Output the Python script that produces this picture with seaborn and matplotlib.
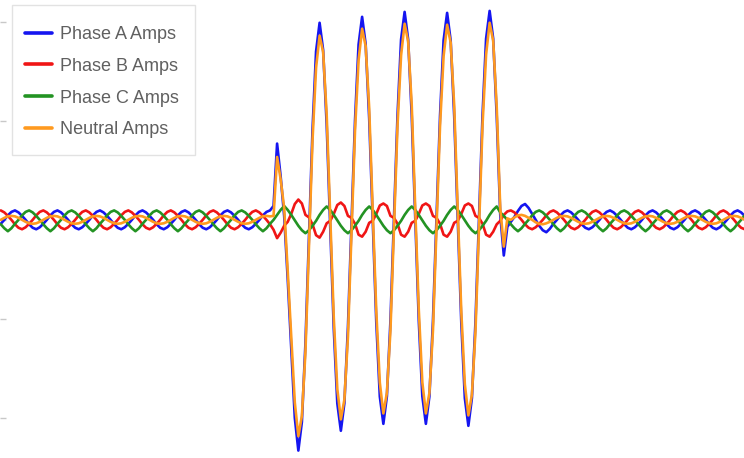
import numpy as np
import pandas as pd
import matplotlib
matplotlib.use("Agg")
import matplotlib.pyplot as plt
import matplotlib.patches as mpatches
import seaborn as sns

# Fault record, 12 samples per 60 Hz cycle, currents in amps
phase_a = [
    -40, 0, 45, 80, 95, 75, 40, 0, -45, -80, -95, -75,
    -40, 0, 45, 80, 95, 75, 40, 0, -45, -80, -95, -75,
    -40, 0, 45, 80, 95, 75, 40, 0, -45, -80, -95, -75,
    -40, 0, 45, 80, 95, 75, 40, 0, -45, -80, -95, -75,
    -40, 0, 45, 80, 95, 75, 40, 0, -45, -80, -95, -75,
    -40, 0, 45, 80, 95, 75, 40, 0, -45, -80, -95, -75,
    -40, 0, 45, 80, 95, 140, 770, 440, 40, -600, -1300, -2000,
    -2330, -2040, -1250, -170, 910, 1700, 1990, 1714, 960, -70, -1100, -1854,
    -2130, -1850, -1085, -40, 1005, 1770, 2050, 1775, 1023, -5, -1033, -1785,
    -2060, -1781, -1020, 20, 1060, 1821, 2100, 1821, 1060, 20, -1020, -1781,
    -2060, -1782, -1022, 15, 1052, 1812, 2090, 1811, 1048, 5, -1038, -1801,
    -2080, -1799, -1033, 15, 1063, 1829, 2110, 1830, 1050, 50, -360, -70,
    -20, 30, 90, 140, 160, 120, 60, 0, -60, -105, -125, -90,
    -40, 0, 45, 80, 95, 75, 40, 0, -45, -80, -95, -75,
    -40, 0, 45, 80, 95, 75, 40, 0, -45, -80, -95, -75,
    -40, 0, 45, 80, 95, 75, 40, 0, -45, -80, -95, -75,
    -40, 0, 45, 80, 95, 75, 40, 0, -45, -80, -95, -75,
    -40, 0, 45, 80, 95, 75, 40,
]

phase_b = [
    95, 75, 40, 0, -45, -80, -95, -75, -40, 0, 45, 80,
    95, 75, 40, 0, -45, -80, -95, -75, -40, 0, 45, 80,
    95, 75, 40, 0, -45, -80, -95, -75, -40, 0, 45, 80,
    95, 75, 40, 0, -45, -80, -95, -75, -40, 0, 45, 80,
    95, 75, 40, 0, -45, -80, -95, -75, -40, 0, 45, 80,
    95, 75, 40, 0, -45, -80, -95, -75, -40, 0, 45, 80,
    95, 75, 40, 0, -45, -100, -185, -130, -60, -20, 60, 160,
    205, 165, 50, 25, -45, -155, -180, -120, -35, -10, 60, 150,
    175, 140, 40, 20, -40, -150, -170, -120, -30, -10, 60, 145,
    165, 140, 40, 20, -40, -150, -170, -120, -30, -10, 60, 145,
    165, 140, 40, 20, -40, -150, -170, -120, -30, -10, 60, 145,
    165, 140, 40, 20, -40, -150, -170, -120, -45, -10, 50, 85,
    95, 75, 40, 0, -45, -80, -95, -75, -40, 0, 45, 80,
    95, 75, 40, 0, -45, -80, -95, -75, -40, 0, 45, 80,
    95, 75, 40, 0, -45, -80, -95, -75, -40, 0, 45, 80,
    95, 75, 40, 0, -45, -80, -95, -75, -40, 0, 45, 80,
    95, 75, 40, 0, -45, -80, -95, -75, -40, 0, 45, 80,
    95, 75, 40, 0, -45, -80, -95,
]

phase_c = [
    -45, -85, -115, -85, -40, 0, 45, 80, 95, 75, 40, 0,
    -45, -85, -115, -85, -40, 0, 45, 80, 95, 75, 40, 0,
    -45, -85, -115, -85, -40, 0, 45, 80, 95, 75, 40, 0,
    -45, -85, -115, -85, -40, 0, 45, 80, 95, 75, 40, 0,
    -45, -85, -115, -85, -40, 0, 45, 80, 95, 75, 40, 0,
    -45, -85, -115, -85, -40, 0, 45, 80, 95, 75, 40, 0,
    -45, -85, -115, -85, -40, 0, 50, 100, 140, 100, 50, -5,
    -60, -105, -135, -105, -60, -10, 50, 100, 135, 100, 50, -5,
    -60, -105, -135, -105, -60, -10, 50, 100, 135, 100, 50, -5,
    -60, -105, -135, -105, -60, -10, 50, 100, 135, 100, 50, -5,
    -60, -105, -135, -105, -60, -10, 50, 100, 135, 100, 50, -5,
    -60, -105, -135, -105, -60, -10, 50, 100, 135, 75, 40, 0,
    -45, -85, -115, -85, -40, 0, 45, 80, 95, 75, 40, 0,
    -45, -85, -115, -85, -40, 0, 45, 80, 95, 75, 40, 0,
    -45, -85, -115, -85, -40, 0, 45, 80, 95, 75, 40, 0,
    -45, -85, -115, -85, -40, 0, 45, 80, 95, 75, 40, 0,
    -45, -85, -115, -85, -40, 0, 45, 80, 95, 75, 40, 0,
    -45, -85, -115, -85, -40, 0, 45,
]

neutral = [
    0, 20, 35, 40, 35, 20, 0, -20, -35, -40, -35, -20,
    0, 20, 35, 40, 35, 20, 0, -20, -35, -40, -35, -20,
    0, 20, 35, 40, 35, 20, 0, -20, -35, -40, -35, -20,
    0, 20, 35, 40, 35, 20, 0, -20, -35, -40, -35, -20,
    0, 20, 35, 40, 35, 20, 0, -20, -35, -40, -35, -20,
    0, 20, 35, 40, 35, 20, 0, -20, -35, -40, -35, -20,
    0, 20, 35, 40, 35, 40, 635, 410, 120, -520, -1190, -1845,
    -2185, -1980, -1335, -250, 805, 1535, 1860, 1694, 1060, 20, -990, -1709,
    -2015, -1815, -1180, -125, 905, 1610, 1930, 1755, 1128, 85, -923, -1645,
    -1955, -1746, -1115, -65, 960, 1661, 1980, 1801, 1165, 110, -910, -1641,
    -1955, -1747, -1117, -70, 952, 1652, 1970, 1791, 1153, 95, -928, -1661,
    -1975, -1764, -1128, -70, 963, 1669, 1990, 1810, 1140, 115, -270, 15,
    0, 25, 45, 50, 40, 20, 0, -25, -40, -45, -35, -20,
    0, 20, 35, 40, 35, 20, 0, -20, -35, -40, -35, -20,
    0, 20, 35, 40, 35, 20, 0, -20, -35, -40, -35, -20,
    0, 20, 35, 40, 35, 20, 0, -20, -35, -40, -35, -20,
    0, 20, 35, 40, 35, 20, 0, -20, -35, -40, -35, -20,
    0, 20, 35, 40, 35, 20, 0,
]

series_names = ["Phase A Amps", "Phase B Amps", "Phase C Amps", "Neutral Amps"]
series_colors = ["#1515f0", "#f01515", "#239323", "#ff9a1f"]
samples_per_second = 720.0  # 12 samples per 60 Hz cycle

frames = []
for name, values in zip(series_names, [phase_a, phase_b, phase_c, neutral]):
    t_ms = np.arange(len(values)) / samples_per_second * 1000.0
    frames.append(pd.DataFrame({"Time (ms)": t_ms, "Amps": values, "Channel": name}))
df = pd.concat(frames, ignore_index=True)

sns.set_style("white")
plt.rcParams["font.family"] = ["Liberation Sans", "DejaVu Sans"]

W, H = 744, 458
fig = plt.figure(figsize=(W / 100, H / 100), dpi=100)
ax = fig.add_axes([0, 0, 1, 1])

sns.lineplot(
    data=df, x="Time (ms)", y="Amps", hue="Channel",
    hue_order=series_names, palette=dict(zip(series_names, series_colors)),
    estimator=None, sort=False, linewidth=1.9, ax=ax,
)

ax.set_xlim(-0.31, 291.4)
ax.set_ylim(-2405, 2220)
for side in ["top", "right", "bottom", "left"]:
    ax.spines[side].set_visible(False)
ax.set_xlabel("")
ax.set_ylabel("")
ax.set_xticks([])
ax.set_yticks([-2000, -1000, 0, 1000, 2000])
ax.tick_params(axis="y", direction="in", length=4, width=1, color="#c8c8c8",
               labelleft=False, left=True)

# Legend box drawn as its own panel, entries placed inside it
box = mpatches.Rectangle(
    (12 / W, 1 - 155 / H), 183 / W, 150 / H, transform=fig.transFigure,
    facecolor="white", edgecolor="#e2e2e2", linewidth=1.0, zorder=4,
)
ax.add_patch(box)

leg = ax.legend(
    loc="upper left", bbox_to_anchor=(25 / W, 1 - 26 / H),
    bbox_transform=fig.transFigure, borderaxespad=0, borderpad=0,
    frameon=False, fontsize=13,
    handlelength=1.5, handletextpad=0.45, labelspacing=0.82,
)
leg.set_zorder(5)
for line in leg.get_lines():
    line.set_linewidth(2.6)
for text in leg.get_texts():
    text.set_color("#606060")

fig.savefig("out.png", dpi=100)
